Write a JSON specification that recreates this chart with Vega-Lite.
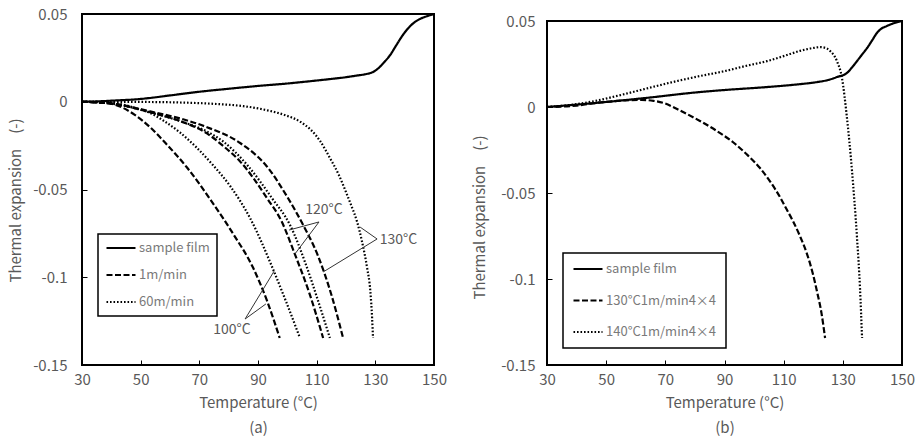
{
  "$schema": "https://vega.github.io/schema/vega-lite/v6.json",
  "padding": {"left": 7, "top": 6, "right": 5, "bottom": 0},
  "background": "white",
  "center": true,
  "spacing": 23,
  "resolve": {"scale": {"strokeDash": "independent", "x": "independent", "y": "independent"}, "legend": {"strokeDash": "independent"}},
  "config": {
    "font": "Noto Sans CJK JP",
    "view": {"stroke": "black", "strokeWidth": 2},
    "axis": {"grid": false, "domain": false, "labelFlush": false, "tickColor": "black", "tickSize": -5, "tickWidth": 1, "labelColor": "#595959", "labelFontSize": 15, "titleColor": "#595959", "titleFontSize": 15, "titleFontWeight": "normal", "labelFont": "Noto Sans CJK JP", "titleFont": "Noto Sans CJK JP"},
    "legend": {"strokeColor": "black", "strokeWidth": 1.5, "fillColor": "white", "labelColor": "#7a7a7a", "labelFontSize": 13, "symbolType": "stroke", "symbolStrokeColor": "black", "symbolStrokeWidth": 2.2, "symbolSize": 841, "clipHeight": 14, "labelOffset": 2, "title": null}
  },
  "datasets": {
    "a_curves": [
      {"c": "film", "s": "sample film", "T": 30, "v": 0},
      {"c": "film", "s": "sample film", "T": 35, "v": 0.0002},
      {"c": "film", "s": "sample film", "T": 40, "v": 0.0006},
      {"c": "film", "s": "sample film", "T": 50, "v": 0.0016},
      {"c": "film", "s": "sample film", "T": 60, "v": 0.0036},
      {"c": "film", "s": "sample film", "T": 70, "v": 0.0057},
      {"c": "film", "s": "sample film", "T": 80, "v": 0.0074},
      {"c": "film", "s": "sample film", "T": 90, "v": 0.009},
      {"c": "film", "s": "sample film", "T": 100, "v": 0.0104},
      {"c": "film", "s": "sample film", "T": 110, "v": 0.0121},
      {"c": "film", "s": "sample film", "T": 115, "v": 0.013},
      {"c": "film", "s": "sample film", "T": 120, "v": 0.014},
      {"c": "film", "s": "sample film", "T": 124, "v": 0.015},
      {"c": "film", "s": "sample film", "T": 127, "v": 0.0158},
      {"c": "film", "s": "sample film", "T": 129, "v": 0.0168},
      {"c": "film", "s": "sample film", "T": 131, "v": 0.019},
      {"c": "film", "s": "sample film", "T": 133, "v": 0.0225},
      {"c": "film", "s": "sample film", "T": 135, "v": 0.0265},
      {"c": "film", "s": "sample film", "T": 137, "v": 0.0318},
      {"c": "film", "s": "sample film", "T": 139, "v": 0.0371},
      {"c": "film", "s": "sample film", "T": 141, "v": 0.0415},
      {"c": "film", "s": "sample film", "T": 143, "v": 0.0448},
      {"c": "film", "s": "sample film", "T": 145, "v": 0.047},
      {"c": "film", "s": "sample film", "T": 147.5, "v": 0.0487},
      {"c": "film", "s": "sample film", "T": 150, "v": 0.05},

      {"c": "d100", "s": "1m/min", "T": 30, "v": 0},
      {"c": "d100", "s": "1m/min", "T": 38, "v": -0.0005},
      {"c": "d100", "s": "1m/min", "T": 44, "v": -0.0035},
      {"c": "d100", "s": "1m/min", "T": 48, "v": -0.0075},
      {"c": "d100", "s": "1m/min", "T": 53.2, "v": -0.0145},
      {"c": "d100", "s": "1m/min", "T": 59, "v": -0.0245},
      {"c": "d100", "s": "1m/min", "T": 65.8, "v": -0.0375},
      {"c": "d100", "s": "1m/min", "T": 74.7, "v": -0.058},
      {"c": "d100", "s": "1m/min", "T": 81.5, "v": -0.0752},
      {"c": "d100", "s": "1m/min", "T": 88.3, "v": -0.0945},
      {"c": "d100", "s": "1m/min", "T": 93.1, "v": -0.1135},
      {"c": "d100", "s": "1m/min", "T": 97.4, "v": -0.1346},

      {"c": "t100", "s": "60m/min", "T": 30, "v": 0},
      {"c": "t100", "s": "60m/min", "T": 38, "v": -0.0003},
      {"c": "t100", "s": "60m/min", "T": 43, "v": -0.0013},
      {"c": "t100", "s": "60m/min", "T": 48, "v": -0.0035},
      {"c": "t100", "s": "60m/min", "T": 53.2, "v": -0.0064},
      {"c": "t100", "s": "60m/min", "T": 58, "v": -0.011},
      {"c": "t100", "s": "60m/min", "T": 63.4, "v": -0.0175},
      {"c": "t100", "s": "60m/min", "T": 69, "v": -0.026},
      {"c": "t100", "s": "60m/min", "T": 74.7, "v": -0.0362},
      {"c": "t100", "s": "60m/min", "T": 80.5, "v": -0.048},
      {"c": "t100", "s": "60m/min", "T": 87.3, "v": -0.0663},
      {"c": "t100", "s": "60m/min", "T": 95.1, "v": -0.0953},
      {"c": "t100", "s": "60m/min", "T": 99.5, "v": -0.1136},
      {"c": "t100", "s": "60m/min", "T": 104.3, "v": -0.1346},

      {"c": "d120", "s": "1m/min", "T": 30, "v": 0},
      {"c": "d120", "s": "1m/min", "T": 41.9, "v": -0.0015},
      {"c": "d120", "s": "1m/min", "T": 53.2, "v": -0.006},
      {"c": "d120", "s": "1m/min", "T": 63.4, "v": -0.011},
      {"c": "d120", "s": "1m/min", "T": 72.6, "v": -0.018},
      {"c": "d120", "s": "1m/min", "T": 78, "v": -0.025},
      {"c": "d120", "s": "1m/min", "T": 83.9, "v": -0.034},
      {"c": "d120", "s": "1m/min", "T": 93.1, "v": -0.055},
      {"c": "d120", "s": "1m/min", "T": 98, "v": -0.068},
      {"c": "d120", "s": "1m/min", "T": 102.6, "v": -0.087},
      {"c": "d120", "s": "1m/min", "T": 107.5, "v": -0.109},
      {"c": "d120", "s": "1m/min", "T": 112.2, "v": -0.1346},

      {"c": "t120", "s": "60m/min", "T": 30, "v": 0},
      {"c": "t120", "s": "60m/min", "T": 41.9, "v": -0.0015},
      {"c": "t120", "s": "60m/min", "T": 53.2, "v": -0.006},
      {"c": "t120", "s": "60m/min", "T": 63.4, "v": -0.011},
      {"c": "t120", "s": "60m/min", "T": 72.6, "v": -0.017},
      {"c": "t120", "s": "60m/min", "T": 78, "v": -0.0225},
      {"c": "t120", "s": "60m/min", "T": 86.3, "v": -0.036},
      {"c": "t120", "s": "60m/min", "T": 94.8, "v": -0.055},
      {"c": "t120", "s": "60m/min", "T": 101, "v": -0.0705},
      {"c": "t120", "s": "60m/min", "T": 106.5, "v": -0.0936},
      {"c": "t120", "s": "60m/min", "T": 110.3, "v": -0.1125},
      {"c": "t120", "s": "60m/min", "T": 114.5, "v": -0.1346},

      {"c": "d130", "s": "1m/min", "T": 30, "v": 0},
      {"c": "d130", "s": "1m/min", "T": 41.9, "v": -0.0015},
      {"c": "d130", "s": "1m/min", "T": 53.2, "v": -0.0055},
      {"c": "d130", "s": "1m/min", "T": 63.4, "v": -0.0095},
      {"c": "d130", "s": "1m/min", "T": 72.6, "v": -0.0145},
      {"c": "d130", "s": "1m/min", "T": 83.9, "v": -0.0235},
      {"c": "d130", "s": "1m/min", "T": 93.1, "v": -0.037},
      {"c": "d130", "s": "1m/min", "T": 99.9, "v": -0.054},
      {"c": "d130", "s": "1m/min", "T": 105, "v": -0.069},
      {"c": "d130", "s": "1m/min", "T": 110.5, "v": -0.088},
      {"c": "d130", "s": "1m/min", "T": 115.2, "v": -0.111},
      {"c": "d130", "s": "1m/min", "T": 119, "v": -0.1346},

      {"c": "t130", "s": "60m/min", "T": 30, "v": 0},
      {"c": "t130", "s": "60m/min", "T": 50, "v": -0.0001},
      {"c": "t130", "s": "60m/min", "T": 65, "v": -0.0005},
      {"c": "t130", "s": "60m/min", "T": 75, "v": -0.0012},
      {"c": "t130", "s": "60m/min", "T": 85, "v": -0.0025},
      {"c": "t130", "s": "60m/min", "T": 93, "v": -0.0048},
      {"c": "t130", "s": "60m/min", "T": 99, "v": -0.0075},
      {"c": "t130", "s": "60m/min", "T": 104.5, "v": -0.0115},
      {"c": "t130", "s": "60m/min", "T": 108, "v": -0.016},
      {"c": "t130", "s": "60m/min", "T": 111.1, "v": -0.0222},
      {"c": "t130", "s": "60m/min", "T": 114.5, "v": -0.032},
      {"c": "t130", "s": "60m/min", "T": 117.5, "v": -0.0415},
      {"c": "t130", "s": "60m/min", "T": 120, "v": -0.0515},
      {"c": "t130", "s": "60m/min", "T": 122, "v": -0.06},
      {"c": "t130", "s": "60m/min", "T": 123.8, "v": -0.0685},
      {"c": "t130", "s": "60m/min", "T": 125.5, "v": -0.08},
      {"c": "t130", "s": "60m/min", "T": 127.2, "v": -0.0947},
      {"c": "t130", "s": "60m/min", "T": 128.3, "v": -0.108},
      {"c": "t130", "s": "60m/min", "T": 128.9, "v": -0.1232},
      {"c": "t130", "s": "60m/min", "T": 129.2, "v": -0.1346}
    ],
    "a_leaders": [
      {"T": 110.8, "v": -0.0685, "T2": 100.6, "v2": -0.0731},
      {"T": 110.8, "v": -0.0685, "T2": 102.6, "v2": -0.0867},
      {"T": 130.6, "v": -0.0782, "T2": 124.8, "v2": -0.0714},
      {"T": 130.6, "v": -0.0782, "T2": 112.2, "v2": -0.097},
      {"T": 85.6, "v": -0.1238, "T2": 95.5, "v2": -0.0965},
      {"T": 85.6, "v": -0.1238, "T2": 92.7, "v2": -0.1152}
    ],
    "a_labels": [
      {"T": 112.5, "v": -0.0617, "label": "120°C"},
      {"T": 137.9, "v": -0.0788, "label": "130°C"},
      {"T": 81.1, "v": -0.13, "label": "100°C"}
    ],
    "b_curves": [
      {"c": "film", "s": "sample film", "T": 30, "v": 0},
      {"c": "film", "s": "sample film", "T": 46.2, "v": 0.0023},
      {"c": "film", "s": "sample film", "T": 63.1, "v": 0.0052},
      {"c": "film", "s": "sample film", "T": 81.7, "v": 0.0087},
      {"c": "film", "s": "sample film", "T": 90.2, "v": 0.0099},
      {"c": "film", "s": "sample film", "T": 104.4, "v": 0.0116},
      {"c": "film", "s": "sample film", "T": 115, "v": 0.0132},
      {"c": "film", "s": "sample film", "T": 121.3, "v": 0.0145},
      {"c": "film", "s": "sample film", "T": 125, "v": 0.0157},
      {"c": "film", "s": "sample film", "T": 128, "v": 0.0174},
      {"c": "film", "s": "sample film", "T": 131.4, "v": 0.0198},
      {"c": "film", "s": "sample film", "T": 133, "v": 0.0228},
      {"c": "film", "s": "sample film", "T": 134.8, "v": 0.0267},
      {"c": "film", "s": "sample film", "T": 136.5, "v": 0.0305},
      {"c": "film", "s": "sample film", "T": 138.2, "v": 0.0343},
      {"c": "film", "s": "sample film", "T": 140, "v": 0.039},
      {"c": "film", "s": "sample film", "T": 141.5, "v": 0.043},
      {"c": "film", "s": "sample film", "T": 143, "v": 0.0455},
      {"c": "film", "s": "sample film", "T": 144.9, "v": 0.0471},
      {"c": "film", "s": "sample film", "T": 147, "v": 0.0486},
      {"c": "film", "s": "sample film", "T": 150, "v": 0.05},

      {"c": "d", "s": "130°C1m/min4×4", "T": 30, "v": 0},
      {"c": "d", "s": "130°C1m/min4×4", "T": 40, "v": 0.0008},
      {"c": "d", "s": "130°C1m/min4×4", "T": 46.2, "v": 0.0023},
      {"c": "d", "s": "130°C1m/min4×4", "T": 52, "v": 0.0033},
      {"c": "d", "s": "130°C1m/min4×4", "T": 58.1, "v": 0.004},
      {"c": "d", "s": "130°C1m/min4×4", "T": 62, "v": 0.0041},
      {"c": "d", "s": "130°C1m/min4×4", "T": 66, "v": 0.0036},
      {"c": "d", "s": "130°C1m/min4×4", "T": 70, "v": 0.002},
      {"c": "d", "s": "130°C1m/min4×4", "T": 74.3, "v": -0.0015},
      {"c": "d", "s": "130°C1m/min4×4", "T": 81.7, "v": -0.0081},
      {"c": "d", "s": "130°C1m/min4×4", "T": 87, "v": -0.0135},
      {"c": "d", "s": "130°C1m/min4×4", "T": 92.9, "v": -0.0205},
      {"c": "d", "s": "130°C1m/min4×4", "T": 97.5, "v": -0.0275},
      {"c": "d", "s": "130°C1m/min4×4", "T": 102, "v": -0.0355},
      {"c": "d", "s": "130°C1m/min4×4", "T": 105.5, "v": -0.0435},
      {"c": "d", "s": "130°C1m/min4×4", "T": 108.8, "v": -0.0525},
      {"c": "d", "s": "130°C1m/min4×4", "T": 111, "v": -0.0595},
      {"c": "d", "s": "130°C1m/min4×4", "T": 113.2, "v": -0.0665},
      {"c": "d", "s": "130°C1m/min4×4", "T": 115.5, "v": -0.075},
      {"c": "d", "s": "130°C1m/min4×4", "T": 117.9, "v": -0.0855},
      {"c": "d", "s": "130°C1m/min4×4", "T": 119.8, "v": -0.0965},
      {"c": "d", "s": "130°C1m/min4×4", "T": 121.3, "v": -0.1075},
      {"c": "d", "s": "130°C1m/min4×4", "T": 122.8, "v": -0.12},
      {"c": "d", "s": "130°C1m/min4×4", "T": 124, "v": -0.1343},

      {"c": "t", "s": "140°C1m/min4×4", "T": 30, "v": 0},
      {"c": "t", "s": "140°C1m/min4×4", "T": 37.8, "v": 0.0012},
      {"c": "t", "s": "140°C1m/min4×4", "T": 46.2, "v": 0.0035},
      {"c": "t", "s": "140°C1m/min4×4", "T": 55, "v": 0.007},
      {"c": "t", "s": "140°C1m/min4×4", "T": 63.1, "v": 0.0105},
      {"c": "t", "s": "140°C1m/min4×4", "T": 72, "v": 0.0143},
      {"c": "t", "s": "140°C1m/min4×4", "T": 81.7, "v": 0.018},
      {"c": "t", "s": "140°C1m/min4×4", "T": 90.2, "v": 0.0209},
      {"c": "t", "s": "140°C1m/min4×4", "T": 97, "v": 0.0238},
      {"c": "t", "s": "140°C1m/min4×4", "T": 104.4, "v": 0.0267},
      {"c": "t", "s": "140°C1m/min4×4", "T": 110, "v": 0.0296},
      {"c": "t", "s": "140°C1m/min4×4", "T": 115.5, "v": 0.0326},
      {"c": "t", "s": "140°C1m/min4×4", "T": 119.9, "v": 0.0343},
      {"c": "t", "s": "140°C1m/min4×4", "T": 122.5, "v": 0.0348},
      {"c": "t", "s": "140°C1m/min4×4", "T": 124.5, "v": 0.0341},
      {"c": "t", "s": "140°C1m/min4×4", "T": 125.7, "v": 0.0326},
      {"c": "t", "s": "140°C1m/min4×4", "T": 128, "v": 0.0267},
      {"c": "t", "s": "140°C1m/min4×4", "T": 129.7, "v": 0.0169},
      {"c": "t", "s": "140°C1m/min4×4", "T": 131.4, "v": -0.0064},
      {"c": "t", "s": "140°C1m/min4×4", "T": 133.1, "v": -0.0372},
      {"c": "t", "s": "140°C1m/min4×4", "T": 134.8, "v": -0.0762},
      {"c": "t", "s": "140°C1m/min4×4", "T": 135.8, "v": -0.1052},
      {"c": "t", "s": "140°C1m/min4×4", "T": 136.5, "v": -0.1343}
    ]
  },
  "hconcat": [
    {
      "width": 352,
      "height": 351,
      "title": {"text": "\u00a0", "orient": "bottom", "fontSize": 1, "offset": 6},
      "layer": [
        {
          "data": {"name": "a_curves"},
          "mark": {"type": "line", "interpolate": "monotone", "color": "black", "strokeWidth": 2.2},
          "encoding": {
            "x": {"field": "T", "type": "quantitative", "scale": {"domain": [30, 150], "nice": false, "zero": false},
                  "axis": {"values": [30, 50, 70, 90, 110, 130, 150], "title": ["Temperature (°C)", "(a)"], "titleLineHeight": 25, "labelPadding": 12, "titlePadding": 8}},
            "y": {"field": "v", "type": "quantitative", "scale": {"domain": [-0.15, 0.05], "nice": false, "zero": false},
                  "axis": {"values": [-0.15, -0.1, -0.05, 0, 0.05], "labelExpr": "datum.value < 0 ? '-' + format(-datum.value, '.2~f') : format(datum.value, '.2~f')", "title": "Thermal expansion\u3000(-)", "titleY": 186, "labelPadding": 20, "titlePadding": 9}},
            "strokeDash": {"field": "s", "type": "nominal", "scale": {"domain": ["sample film", "1m/min", "60m/min"], "range": [[1, 0], [6, 2.5], [1.6, 1.9]]},
                           "legend": {"orient": "none", "legendX": 16, "legendY": 220, "padding": 7, "rowPadding": 13}},
            "detail": {"field": "c"}
          }
        },
        {
          "data": {"name": "a_leaders"},
          "mark": {"type": "rule", "color": "#333333", "strokeWidth": 1},
          "encoding": {
            "x": {"field": "T", "type": "quantitative"},
            "y": {"field": "v", "type": "quantitative"},
            "x2": {"field": "T2"},
            "y2": {"field": "v2"}
          }
        },
        {
          "data": {"name": "a_labels"},
          "mark": {"type": "text", "fontSize": 14, "color": "#595959", "align": "center", "baseline": "middle"},
          "encoding": {
            "x": {"field": "T", "type": "quantitative"},
            "y": {"field": "v", "type": "quantitative"},
            "text": {"field": "label"}
          }
        }
      ]
    },
    {
      "width": 355,
      "height": 344,
      "layer": [
        {
          "data": {"name": "b_curves"},
          "mark": {"type": "line", "interpolate": "monotone", "color": "black", "strokeWidth": 2.2},
          "encoding": {
            "x": {"field": "T", "type": "quantitative", "scale": {"domain": [30, 150], "nice": false, "zero": false},
                  "axis": {"values": [30, 50, 70, 90, 110, 130, 150], "title": ["Temperature (°C)", "(b)"], "titleLineHeight": 25, "labelPadding": 12, "titlePadding": 8}},
            "y": {"field": "v", "type": "quantitative", "scale": {"domain": [-0.15, 0.05], "nice": false, "zero": false},
                  "axis": {"values": [-0.15, -0.1, -0.05, 0, 0.05], "labelExpr": "datum.value < 0 ? '-' + format(-datum.value, '.2~f') : format(datum.value, '.2~f')", "title": "Thermal expansion\u3000(-)", "titleY": 196, "labelPadding": 17, "titlePadding": 13}},
            "strokeDash": {"field": "s", "type": "nominal", "scale": {"domain": ["sample film", "130°C1m/min4×4", "140°C1m/min4×4"], "range": [[1, 0], [6, 2.5], [1.6, 1.9]]},
                           "legend": {"orient": "none", "legendX": 16, "legendY": 232, "padding": 9, "rowPadding": 17.5}},
            "detail": {"field": "c"}
          }
        }
      ]
    }
  ]
}
